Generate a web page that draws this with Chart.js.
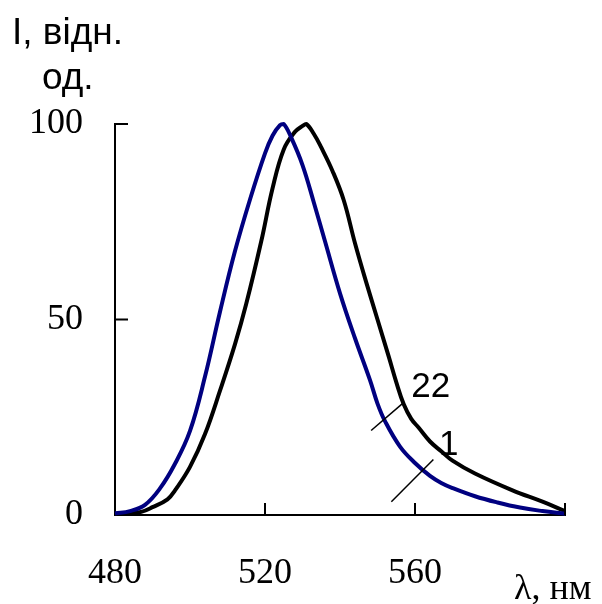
<!DOCTYPE html>
<html>
<head>
<meta charset="utf-8">
<script src="https://cdn.jsdelivr.net/npm/chart.js@4.4.0/dist/chart.umd.min.js"></script>
<style>
  html, body { margin: 0; padding: 0; background: #fff; }
  #wrap { width: 602px; height: 604px; }
</style>
</head>
<body>
<div id="wrap"><canvas id="spectra" width="602" height="604"></canvas></div>
<script>
// spectrum 1 (navy)
const wl1 = [480, 484, 488, 492, 496, 500, 504, 508, 512, 516, 520, 522, 524, 525, 527, 530, 533, 536, 540, 544, 548, 550, 552, 556, 560, 564, 567, 570, 576, 582, 588, 594, 600];
const int1 = [0.4, 1.0, 2.6, 6.8, 13.1, 21.5, 35.4, 52, 67.5, 80.7, 92.5, 97, 99.7, 100, 96.5, 89.5, 80, 70, 56.7, 45.2, 34.5, 28.5, 24, 17.5, 13.3, 10.0, 8.2, 6.9, 4.8, 3.2, 1.9, 1.0, 0.3];

// spectrum 22 (black)
const wl22 = [480, 484, 487, 490, 494, 496, 500, 504, 508, 512, 515, 519, 522, 525, 528, 530, 531, 533, 535, 538, 541, 544, 547, 550, 553, 555, 557, 559, 561, 564, 567, 570, 576, 586, 594, 600];
const int22 = [0.3, 0.5, 0.8, 2.0, 4.0, 6.3, 12.3, 20.7, 31.8, 43.7, 54, 70, 83.5, 93.5, 98, 99.5, 100, 97.5, 94, 88, 80.5, 69.5, 59.5, 50, 40.5, 34, 28.3, 24.6, 22.3, 18.8, 16.3, 13.9, 10.6, 6.3, 3.4, 1.0];

const xTicks = [480, 520, 560, 600];
const yTicks = [0, 50, 100];
const yTitle = ['I, відн.', 'од.'];
const xTitle = 'λ, нм';

const toPoints = (xs, ys) => xs.map((v, i) => ({ x: v, y: ys[i] }));

// curve number labels with their leader lines (data coordinates)
const curveLabels = [
  { text: '22', from: [548.3, 21.6], to: [556.8, 28.6], at: [559.0, 30.2] },
  { text: '1', from: [553.7, 3.4], to: [564.9, 14.2], at: [566.4, 15.3] },
];

const decorations = {
  id: 'decorations',
  afterDatasetsDraw(chart) {
    const { ctx, scales: { x, y } } = chart;
    ctx.save();
    ctx.strokeStyle = '#000';
    ctx.lineWidth = 2;
    ctx.beginPath();
    // tick marks point inward
    yTicks.filter(v => v > 0).forEach(v => {
      const py = y.getPixelForValue(v);
      ctx.moveTo(x.left, py);
      ctx.lineTo(x.left + 13, py);
    });
    xTicks.filter(v => v > 480).forEach(v => {
      const px = x.getPixelForValue(v);
      ctx.moveTo(px, y.bottom);
      ctx.lineTo(px, y.bottom - 12);
    });
    ctx.stroke();

    ctx.lineWidth = 1.5;
    ctx.fillStyle = '#000';
    ctx.font = '35px "Liberation Sans", Arial, sans-serif';
    ctx.textBaseline = 'alphabetic';
    ctx.textAlign = 'left';
    curveLabels.forEach(l => {
      ctx.beginPath();
      ctx.moveTo(x.getPixelForValue(l.from[0]), y.getPixelForValue(l.from[1]));
      ctx.lineTo(x.getPixelForValue(l.to[0]), y.getPixelForValue(l.to[1]));
      ctx.stroke();
      ctx.fillText(l.text, x.getPixelForValue(l.at[0]), y.getPixelForValue(l.at[1]));
    });

    // axis titles
    ctx.font = '37px "Liberation Sans", Arial, sans-serif';
    ctx.fillText(yTitle[0], 12, 44);
    ctx.fillText(yTitle[1], 42, 89);
    ctx.font = '36px "Liberation Serif", "Times New Roman", serif';
    ctx.fillText(xTitle, 514, 599);
    ctx.restore();
  }
};

const tickFont = { family: '"Liberation Serif", "Times New Roman", serif', size: 36 };

new Chart(document.getElementById('spectra'), {
  type: 'line',
  data: {
    datasets: [
      {
        label: '1',
        data: toPoints(wl1, int1),
        borderColor: '#000080',
        borderWidth: 4,
        pointRadius: 0,
        tension: 0.4,
        borderJoinStyle: 'round',
        fill: false,
        clip: false,
      },
      {
        label: '22',
        data: toPoints(wl22, int22),
        borderColor: '#000000',
        borderWidth: 4,
        pointRadius: 0,
        tension: 0.4,
        borderJoinStyle: 'round',
        fill: false,
        clip: false,
      },
    ],
  },
  options: {
    responsive: false,
    animation: false,
    layout: { padding: { top: 124, right: 30, left: 0, bottom: 0 } },
    plugins: {
      legend: { display: false },
      tooltip: { enabled: false },
      title: { display: false },
    },
    scales: {
      x: {
        type: 'linear',
        min: 480,
        max: 600,
        afterBuildTicks: s => { s.ticks = xTicks.map(v => ({ value: v })); },
        afterFit: s => { s.height = 89; },
        ticks: {
          font: tickFont,
          color: '#000',
          padding: 37,
          maxRotation: 0,
          autoSkip: false,
          callback: v => (v === 600 ? '' : v),
        },
        grid: { display: false, drawTicks: false },
        border: { display: true, color: '#000', width: 2 },
      },
      y: {
        min: 0,
        max: 100,
        afterBuildTicks: s => { s.ticks = yTicks.map(v => ({ value: v })); },
        afterFit: s => { s.width = 115; },
        ticks: {
          font: tickFont,
          color: '#000',
          padding: 32,
        },
        grid: { display: false, drawTicks: false },
        border: { display: true, color: '#000', width: 2 },
      },
    },
  },
  plugins: [decorations],
});
</script>
</body>
</html>
